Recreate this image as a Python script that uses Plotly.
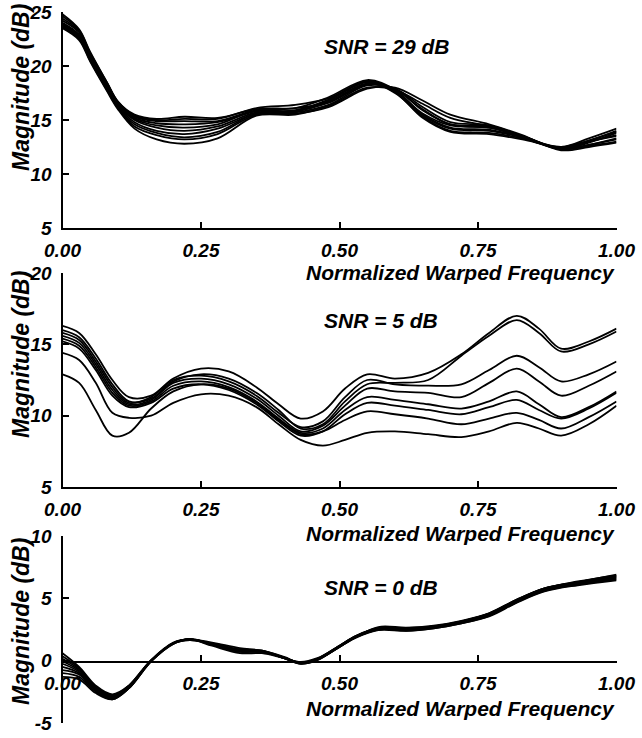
import plotly.graph_objects as go

# ---------------- data ----------------
x_top = [0, 0.03, 0.05, 0.08, 0.10, 0.13, 0.17, 0.22, 0.28, 0.35, 0.42, 0.48,
         0.55, 0.60, 0.65, 0.70, 0.77, 0.83, 0.90, 0.95, 1.00]
top_curves = [
    [24.8, 23.4, 21.3, 18.5, 16.7, 15.5, 15.1, 15.3, 15.2, 16.0, 16.1, 16.6, 18.3, 17.8, 16.0, 14.6, 14.3, 13.5, 12.4, 13.1, 14.0],
    [24.6, 23.3, 21.2, 18.5, 16.7, 15.4, 15.0, 15.1, 15.1, 16.1, 16.4, 17.0, 18.5, 17.5, 15.4, 14.2, 14.0, 13.4, 12.5, 13.3, 14.2],
    [24.4, 23.2, 21.1, 18.4, 16.6, 15.3, 14.9, 14.9, 14.9, 15.9, 15.8, 16.7, 18.4, 17.7, 15.6, 14.5, 14.3, 13.5, 12.3, 12.9, 13.8],
    [24.2, 23.1, 21.0, 18.3, 16.5, 15.2, 14.7, 14.6, 14.8, 15.8, 15.9, 16.9, 18.6, 17.6, 15.3, 14.0, 13.8, 13.3, 12.4, 13.0, 13.6],
    [24.0, 22.9, 20.9, 18.2, 16.5, 15.1, 14.5, 14.3, 14.6, 15.9, 16.1, 17.1, 18.7, 17.8, 15.5, 14.3, 14.1, 13.4, 12.4, 13.0, 13.5],
    [23.9, 22.8, 20.8, 18.1, 16.4, 15.0, 14.3, 14.0, 14.4, 15.7, 15.8, 16.6, 18.3, 17.9, 15.9, 14.6, 14.4, 13.5, 12.3, 12.7, 13.3],
    [23.8, 22.7, 20.7, 18.0, 16.3, 14.8, 14.0, 13.7, 14.2, 15.6, 15.9, 16.8, 18.5, 17.6, 15.2, 13.9, 13.7, 13.2, 12.5, 13.1, 13.9],
    [23.7, 22.6, 20.6, 17.9, 16.2, 14.6, 13.8, 13.4, 13.9, 15.6, 15.7, 16.4, 18.2, 17.9, 16.2, 14.8, 14.5, 13.5, 12.3, 12.6, 13.0],
    [23.6, 22.5, 20.5, 17.8, 16.1, 14.4, 13.6, 13.2, 13.7, 15.5, 15.6, 16.2, 17.9, 18.0, 16.8, 15.5, 14.6, 13.6, 12.2, 12.5, 12.9],
    [23.5, 22.4, 20.4, 17.7, 16.0, 14.2, 13.2, 12.8, 13.3, 15.4, 15.5, 16.3, 18.0, 17.8, 16.5, 15.2, 14.4, 13.4, 12.3, 12.7, 13.2],
]

x_mid = [0, 0.03, 0.06, 0.09, 0.12, 0.16, 0.20, 0.25, 0.30, 0.35, 0.39, 0.43,
         0.47, 0.51, 0.55, 0.60, 0.66, 0.72, 0.77, 0.82, 0.86, 0.90, 0.95, 1.00]
mid_curves = [
    [16.3, 15.8, 14.3, 12.5, 11.3, 11.4, 12.6, 13.3, 13.1, 12.0, 10.8, 9.8, 10.3, 11.9, 12.9, 12.6, 13.0, 14.3, 15.8, 17.0, 16.1, 14.7, 15.2, 16.1],
    [16.0, 15.5, 14.0, 12.2, 11.0, 11.2, 12.4, 12.9, 12.6, 11.6, 10.4, 9.1, 9.4, 11.0, 12.2, 12.3, 12.5, 14.2, 15.6, 16.7, 15.8, 14.5, 15.0, 15.9],
    [15.8, 15.3, 13.8, 12.0, 10.9, 11.3, 12.5, 12.8, 12.4, 11.4, 10.2, 9.2, 9.6, 11.3, 12.5, 12.2, 12.1, 12.2, 13.2, 14.2, 13.4, 12.4, 12.9, 13.8],
    [15.6, 15.1, 13.6, 11.8, 10.8, 11.1, 12.3, 12.6, 12.2, 11.2, 10.0, 8.9, 9.3, 10.7, 11.9, 11.7, 11.6, 11.3, 12.3, 13.3, 12.4, 11.4, 12.1, 13.1],
    [15.4, 14.9, 13.4, 11.6, 10.7, 11.0, 12.1, 12.4, 12.0, 11.0, 9.8, 8.8, 9.1, 10.4, 11.3, 11.1, 10.8, 10.5, 11.0, 11.7, 10.8, 9.9, 10.6, 11.7],
    [15.2, 14.7, 13.2, 11.4, 10.6, 10.9, 11.9, 12.2, 11.8, 10.8, 9.6, 8.6, 8.9, 10.1, 10.9, 10.7, 10.4, 10.1, 10.6, 11.1, 10.4, 9.8, 10.5, 11.6],
    [12.9, 12.3, 10.4, 8.6, 8.8, 10.5, 11.7, 12.2, 11.9, 10.9, 9.7, 8.7, 8.9, 9.7, 10.3, 10.1, 9.8, 9.4, 9.8, 10.2, 9.7, 9.1, 9.9, 11.0],
    [14.4, 13.9, 12.3, 10.2, 9.85, 10.0, 10.9, 11.5, 11.4, 10.6, 9.4, 8.3, 7.9, 8.3, 8.8, 8.9, 8.7, 8.5, 8.9, 9.5, 9.1, 8.6, 9.4, 10.7],
]

x_bot = [0, 0.03, 0.06, 0.09, 0.12, 0.16, 0.20, 0.23, 0.27, 0.32, 0.36, 0.40,
         0.43, 0.46, 0.50, 0.53, 0.57, 0.62, 0.67, 0.72, 0.77, 0.82, 0.87, 0.93, 1.00]
bot_curves = [
    [0.6, -0.5, -2.0, -2.7, -2.0, 0.0, 1.4, 1.7, 1.2, 0.6, 0.6, 0.2, -0.1, 0.2, 1.2, 2.0, 2.6, 2.4, 2.6, 3.0, 3.6, 4.7, 5.6, 6.1, 6.5],
    [0.35, -0.6, -2.1, -2.8, -2.1, 0.0, 1.4, 1.75, 1.3, 0.7, 0.7, 0.25, -0.15, 0.15, 1.2, 1.95, 2.55, 2.5, 2.7, 3.1, 3.7, 4.8, 5.7, 6.2, 6.6],
    [0.15, -0.7, -2.1, -2.8, -2.0, 0.05, 1.45, 1.7, 1.35, 0.8, 0.75, 0.2, -0.2, 0.1, 1.1, 1.9, 2.5, 2.55, 2.75, 3.1, 3.75, 4.85, 5.75, 6.25, 6.7],
    [-0.05, -0.8, -2.2, -2.9, -2.1, 0.0, 1.4, 1.65, 1.4, 0.9, 0.8, 0.25, -0.2, 0.1, 1.15, 1.95, 2.6, 2.6, 2.8, 3.2, 3.8, 4.9, 5.8, 6.3, 6.8],
    [-0.25, -0.9, -2.3, -2.9, -2.0, 0.05, 1.4, 1.7, 1.45, 1.0, 0.8, 0.2, -0.25, 0.05, 1.1, 1.9, 2.7, 2.65, 2.75, 3.15, 3.8, 4.9, 5.8, 6.35, 6.85],
    [-0.5, -1.0, -2.3, -3.0, -2.2, -0.05, 1.35, 1.7, 1.3, 0.75, 0.7, 0.25, -0.2, 0.1, 1.15, 1.9, 2.5, 2.45, 2.65, 3.05, 3.65, 4.75, 5.65, 6.15, 6.6],
    [-0.75, -1.1, -2.4, -3.0, -2.1, 0.0, 1.4, 1.7, 1.35, 0.85, 0.75, 0.2, -0.15, 0.15, 1.2, 2.0, 2.55, 2.5, 2.7, 3.1, 3.7, 4.8, 5.7, 6.2, 6.75],
    [-1.0, -1.3, -2.5, -3.1, -2.2, -0.05, 1.35, 1.65, 1.3, 0.9, 0.8, 0.3, -0.2, 0.1, 1.1, 1.85, 2.45, 2.4, 2.6, 3.0, 3.55, 4.65, 5.55, 6.05, 6.45],
    [-1.3, -1.5, -2.6, -3.1, -2.2, 0.0, 1.4, 1.7, 1.35, 0.8, 0.7, 0.2, -0.25, 0.05, 1.15, 1.95, 2.6, 2.55, 2.75, 3.15, 3.75, 4.85, 5.8, 6.3, 6.9],
]

x_tickvals = [0, 0.25, 0.5, 0.75, 1.0]
x_ticktext = ["0.00", "0.25", "0.50", "0.75", "1.00"]
y_ticks_top = [5, 10, 15, 20, 25]
y_ticks_mid = [5, 10, 15, 20]
y_ticks_bot = [-5, 0, 5, 10]
y_text_bot = ["-5", "0", "5", "10"]
snr_labels = ["SNR = 29 dB", "SNR = 5 dB", "SNR = 0 dB"]
x_title = "Normalized Warped Frequency"
y_title = "Magnitude (dB)"

# ---------------- figure ----------------
W, H = 642, 738
FAM = "Liberation Sans, Arial, Helvetica, sans-serif"
TICKFONT = dict(family=FAM, size=19, color="black", weight="bold", style="italic")
TITLEFONT = dict(family=FAM, size=21, color="black", weight="bold", style="italic")
YTITLEFONT = dict(family=FAM, size=23, color="black", weight="bold", style="italic")


def py(p):
    return 1 - p / H


def px(p):
    return p / W


fig = go.Figure()
LINE = dict(color="black", width=1.8, shape="spline", smoothing=1.0)
for xs, curves, xa, ya in [(x_top, top_curves, "x", "y"),
                           (x_mid, mid_curves, "x2", "y2"),
                           (x_bot, bot_curves, "x3", "y3")]:
    for c in curves:
        fig.add_trace(go.Scatter(x=xs, y=c, mode="lines", line=LINE,
                                 xaxis=xa, yaxis=ya, showlegend=False,
                                 hoverinfo="skip"))

xdom = [px(62.5), px(616.5)]
common = dict(showline=True, linecolor="black", linewidth=2, ticks="inside",
              ticklen=6, tickwidth=2, tickcolor="black", showgrid=False,
              zeroline=False, tickfont=TICKFONT, automargin=False)
xcommon = dict(common, range=[0, 1], tickvals=x_tickvals, ticktext=x_ticktext,
               domain=xdom, ticklabelstandoff=4)
ycommon = dict(common, ticklabelstandoff=5)

fig.update_layout(
    template="none",
    width=W, height=H,
    margin=dict(l=0, r=0, t=0, b=0, pad=0, autoexpand=False),
    paper_bgcolor="white", plot_bgcolor="white",
    showlegend=False,
    xaxis=dict(xcommon, anchor="y"),
    xaxis2=dict(xcommon, anchor="y2"),
    xaxis3=dict(xcommon, anchor="free", position=py(662)),
    yaxis=dict(ycommon, range=[5, 25], tickvals=y_ticks_top,
               domain=[py(228), py(12)], anchor="x"),
    yaxis2=dict(ycommon, range=[5, 20], tickvals=y_ticks_mid,
                domain=[py(487), py(273)], anchor="x2"),
    yaxis3=dict(ycommon, range=[-5, 10], tickvals=y_ticks_bot, ticktext=y_text_bot,
                domain=[py(723), py(536)], anchor="x3"),
)

ann = []
for yc in [273, 533, 708]:
    ann.append(dict(text=x_title, x=px(617), y=py(yc), xref="paper", yref="paper",
                    xanchor="right", yanchor="middle", showarrow=False, font=TITLEFONT))
for yc in [88, 355, 622]:
    ann.append(dict(text=y_title, x=px(21), y=py(yc), xref="paper", yref="paper",
                    xanchor="center", yanchor="middle", textangle=-90,
                    showarrow=False, font=YTITLEFONT))
for lab, yc in zip(snr_labels, [46, 320, 587]):
    ann.append(dict(text=lab, x=px(322), y=py(yc), xref="paper", yref="paper",
                    xanchor="left", yanchor="middle", showarrow=False, font=TITLEFONT))
fig.update_layout(annotations=ann)

fig.write_html("out.html",
               config={"displayModeBar": False, "staticPlot": True},
               post_script="document.body.style.margin='0';document.body.style.overflow='hidden';")
